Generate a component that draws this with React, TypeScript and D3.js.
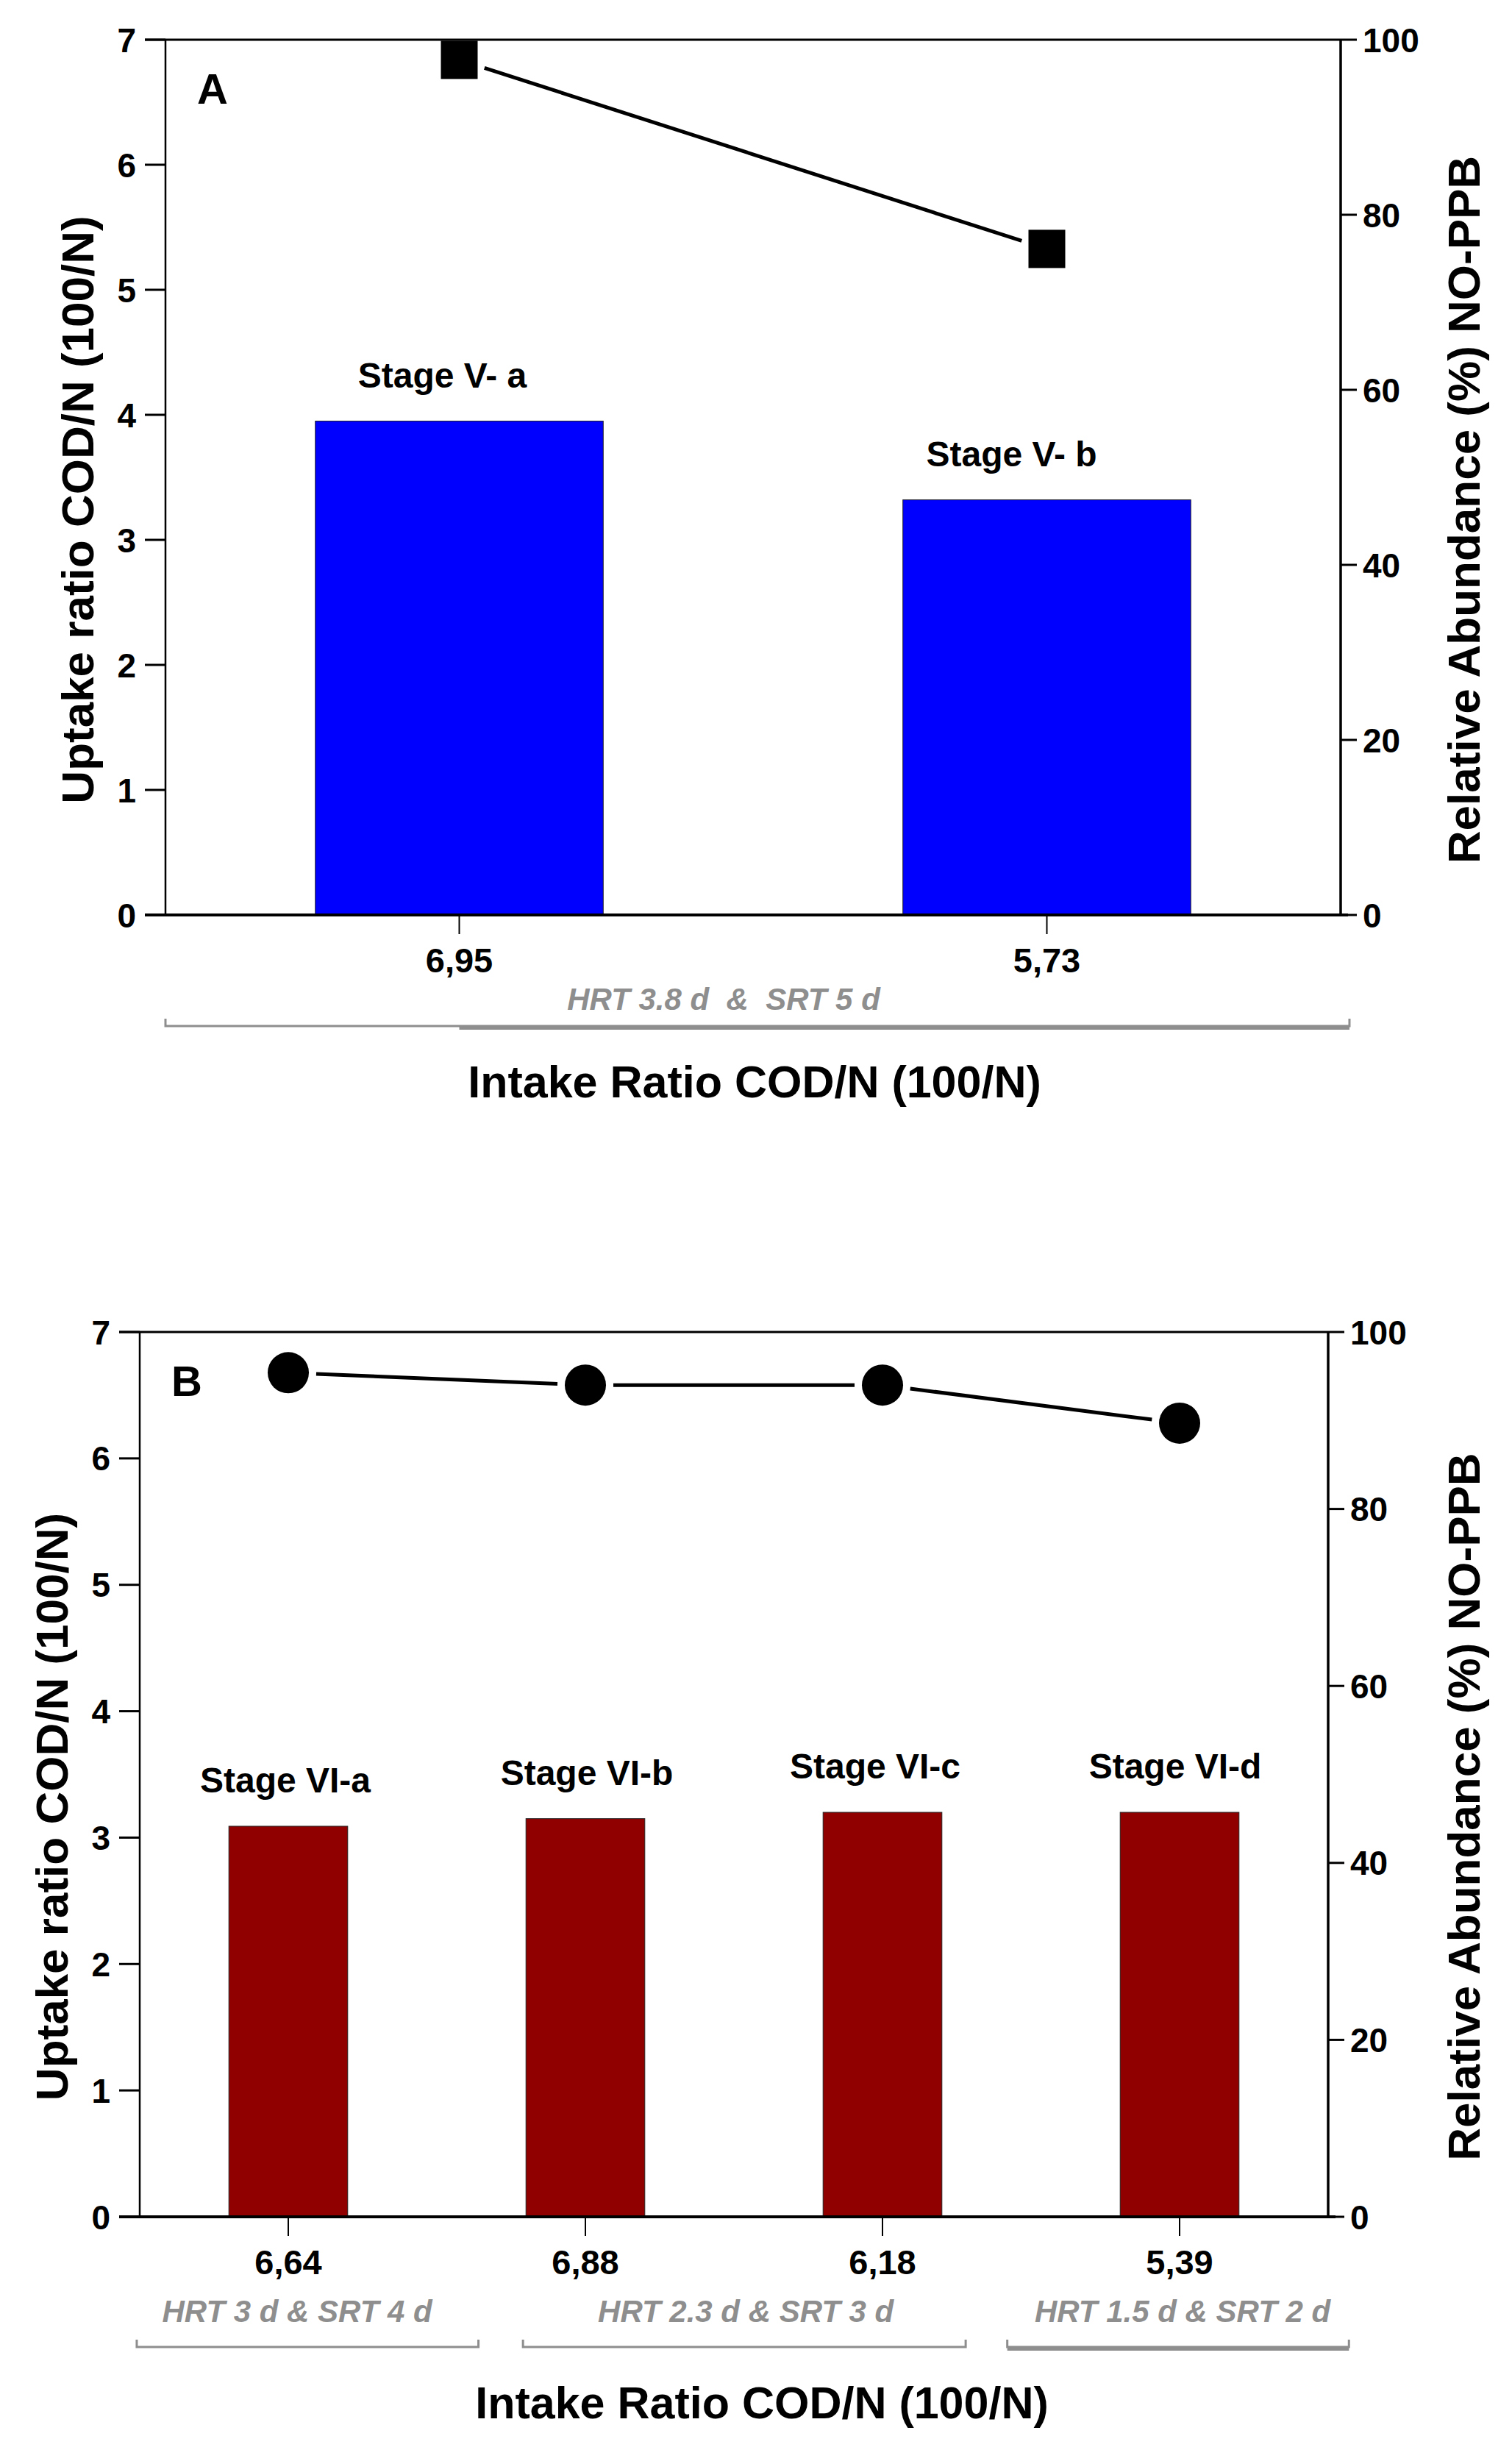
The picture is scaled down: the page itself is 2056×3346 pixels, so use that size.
import React from "react";
import * as d3 from "d3";

// Panel A data
const stagesA = ["Stage V- a", "Stage V- b"];
const intakeA = ["6,95", "5,73"];
const uptakeA = [3.95, 3.32];
const abundanceA = [97.7, 76.1];
const conditionsA = ["HRT 3.8 d  &  SRT 5 d"];
const conditionAtA = [0.45];
const bracketFromA = [-0.5];
const bracketToA = [1.515];
const heavyFromA = [0.0];

// Panel B data
const stagesB = ["Stage VI-a", "Stage VI-b", "Stage VI-c", "Stage VI-d"];
const intakeB = ["6,64", "6,88", "6,18", "5,39"];
const uptakeB = [3.09, 3.15, 3.2, 3.2];
const abundanceB = [95.4, 94.0, 94.0, 89.7];
const conditionsB = ["HRT 3 d & SRT 4 d", "HRT 2.3 d & SRT 3 d", "HRT 1.5 d & SRT 2 d"];
const conditionAtB = [0.03, 1.54, 3.01];
const bracketFromB = [-0.51, 0.79, 2.42];
const bracketToB = [0.64, 2.28, 3.57];
const heavyFromB = [null, null, 2.42];

const leftTicks = [0, 1, 2, 3, 4, 5, 6, 7];
const rightTicks = [0, 20, 40, 60, 80, 100];

const FONT = "'Liberation Sans', Arial, sans-serif";
const GREY = "#8e8e8e";

function Panel(props) {
  const {
    letter, stages, intake, uptake, abundance, conditions, conditionAt,
    bracketFrom, bracketTo, heavyFrom, barColor, marker, frame, padInner,
    padOuter, stageDx, lay,
  } = props;
  const { left, right, top, bottom } = frame;
  const n = stages.length;

  const x = d3.scaleBand().domain(d3.range(n)).range([left, right])
    .paddingInner(padInner).paddingOuter(padOuter);
  const cx = (i) => x(i) + x.bandwidth() / 2;
  // category units -> pixels (used for the grouping brackets)
  const cat = d3.scaleLinear().domain([0, n - 1]).range([cx(0), cx(n - 1)]);
  const yL = d3.scaleLinear().domain([0, 7]).range([bottom, top]);
  const yR = d3.scaleLinear().domain([0, 100]).range([bottom, top]);

  const pts = abundance.map((a, i) => [cx(i), yR(a)]);
  const gap = marker === "square" ? 36 : 38;
  const segs = pts.slice(1).map((p, i) => {
    const q = pts[i];
    const dx = p[0] - q[0], dy = p[1] - q[1];
    const len = Math.hypot(dx, dy);
    const ux = dx / len, uy = dy / len;
    return [q[0] + ux * gap, q[1] + uy * gap, p[0] - ux * gap, p[1] - uy * gap];
  });

  const midY = (top + bottom) / 2;

  return (
    <g fontFamily={FONT}>
      {/* bars */}
      {uptake.map((v, i) => (
        <rect key={"b" + i} x={x(i)} y={yL(v)} width={x.bandwidth()}
          height={bottom - yL(v)} fill={barColor} stroke="#222" strokeWidth={1} />
      ))}
      {stages.map((s, i) => (
        <text key={"s" + i} x={cx(i) + stageDx[i]} y={yL(uptake[i]) - 46}
          textAnchor="middle" fontSize={48} fontWeight="bold">{s}</text>
      ))}

      {/* frame */}
      <line x1={left} x2={left} y1={top} y2={bottom} stroke="#000" strokeWidth={2.5} />
      <line x1={right} x2={right} y1={top} y2={bottom} stroke="#000" strokeWidth={3.5} />
      <line x1={left - 28} x2={right} y1={top} y2={top} stroke="#000" strokeWidth={3} />
      <line x1={left - 28} x2={right + 10} y1={bottom} y2={bottom} stroke="#000" strokeWidth={4} />

      {/* left axis */}
      {leftTicks.map((t) => (
        <g key={"l" + t}>
          <line x1={left - 28} x2={left} y1={yL(t)} y2={yL(t)} stroke="#000" strokeWidth={3} />
          <text x={left - 40} y={yL(t)} dy="0.36em" textAnchor="end" fontSize={46} fontWeight="bold">{t}</text>
        </g>
      ))}
      {/* right axis */}
      {rightTicks.map((t) => (
        <g key={"r" + t}>
          <line x1={right} x2={right + 22} y1={yR(t)} y2={yR(t)} stroke="#000" strokeWidth={3} />
          <text x={right + 30} y={yR(t)} dy="0.36em" textAnchor="start" fontSize={46} fontWeight="bold">{t}</text>
        </g>
      ))}
      {/* x ticks */}
      {intake.map((s, i) => (
        <g key={"x" + i}>
          <line x1={cx(i)} x2={cx(i)} y1={bottom} y2={bottom + 26} stroke="#000" strokeWidth={2} />
          <text x={cx(i)} y={bottom + 78} textAnchor="middle" fontSize={47} fontWeight="bold">{s}</text>
        </g>
      ))}

      {/* abundance line */}
      {segs.map((s, i) => (
        <line key={"g" + i} x1={s[0]} y1={s[1]} x2={s[2]} y2={s[3]} stroke="#000" strokeWidth={5} />
      ))}
      {pts.map((p, i) =>
        marker === "square" ? (
          <rect key={"m" + i} x={p[0] - 25} y={p[1] - 26} width={50} height={52} fill="#000" />
        ) : (
          <ellipse key={"m" + i} cx={p[0]} cy={p[1]} rx={28} ry={28} fill="#000" />
        )
      )}

      <text x={left + 43} y={top + 87} fontSize={58} fontWeight="bold">{letter}</text>

      {/* group conditions */}
      {conditions.map((c, i) => (
        <text key={"c" + i} x={cat(conditionAt[i])} y={bottom + lay.condY}
          textAnchor="middle" fontSize={42} fontWeight="bold" fontStyle="italic"
          fill={GREY} style={{ whiteSpace: "pre" }}>{c}</text>
      ))}
      {conditions.map((c, i) => {
        const x1 = cat(bracketFrom[i]);
        const x2 = cat(bracketTo[i]);
        const yb = bottom + lay.bracketY;
        return (
          <g key={"k" + i} stroke={GREY} fill="none">
            <path d={`M${x1},${yb - 10}V${yb}H${x2}V${yb - 10}`} strokeWidth={3} />
            {heavyFrom[i] != null && (
              <line x1={cat(heavyFrom[i])} x2={x2} y1={yb + 2} y2={yb + 2} strokeWidth={6} />
            )}
          </g>
        );
      })}

      {/* axis titles */}
      <text x={lay.titleX} y={bottom + lay.titleY} textAnchor="middle" fontSize={61}
        fontWeight="bold">Intake Ratio COD/N (100/N)</text>
      <text transform={`translate(${left - 98},${midY + 44}) rotate(-90)`} textAnchor="middle"
        fontSize={62} fontWeight="bold">Uptake ratio COD/N (100/N)</text>
      <text transform={`translate(2012,${midY + 44}) rotate(-90)`} textAnchor="middle"
        fontSize={62} fontWeight="bold">Relative Abundance (%) NO-PPB</text>
    </g>
  );
}

export default function App() {
  return (
    <svg width={2056} height={3346} viewBox="0 0 2056 3346"
      style={{ position: "absolute", left: 0, top: 0, background: "#fff" }}>
      <rect width={2056} height={3346} fill="#fff" />
      <Panel letter="A" stages={stagesA} intake={intakeA} uptake={uptakeA}
        abundance={abundanceA} conditions={conditionsA} conditionAt={conditionAtA}
        bracketFrom={bracketFromA} bracketTo={bracketToA} heavyFrom={heavyFromA}
        barColor="#0000ff" marker="square"
        frame={{ left: 225, right: 1823, top: 54, bottom: 1244 }}
        padInner={0.51} padOuter={0.255} stageDx={[-23, -48]}
        lay={{ condY: 129, bracketY: 151, titleY: 248, titleX: 1026 }} />
      <Panel letter="B" stages={stagesB} intake={intakeB} uptake={uptakeB}
        abundance={abundanceB} conditions={conditionsB} conditionAt={conditionAtB}
        bracketFrom={bracketFromB} bracketTo={bracketToB} heavyFrom={heavyFromB}
        barColor="#900000" marker="circle"
        frame={{ left: 190, right: 1806, top: 1811, bottom: 3014 }}
        padInner={0.6} padOuter={0.3} stageDx={[-4, 2, -10, -6]}
        lay={{ condY: 143, bracketY: 177, titleY: 274, titleX: 1036 }} />
    </svg>
  );
}
